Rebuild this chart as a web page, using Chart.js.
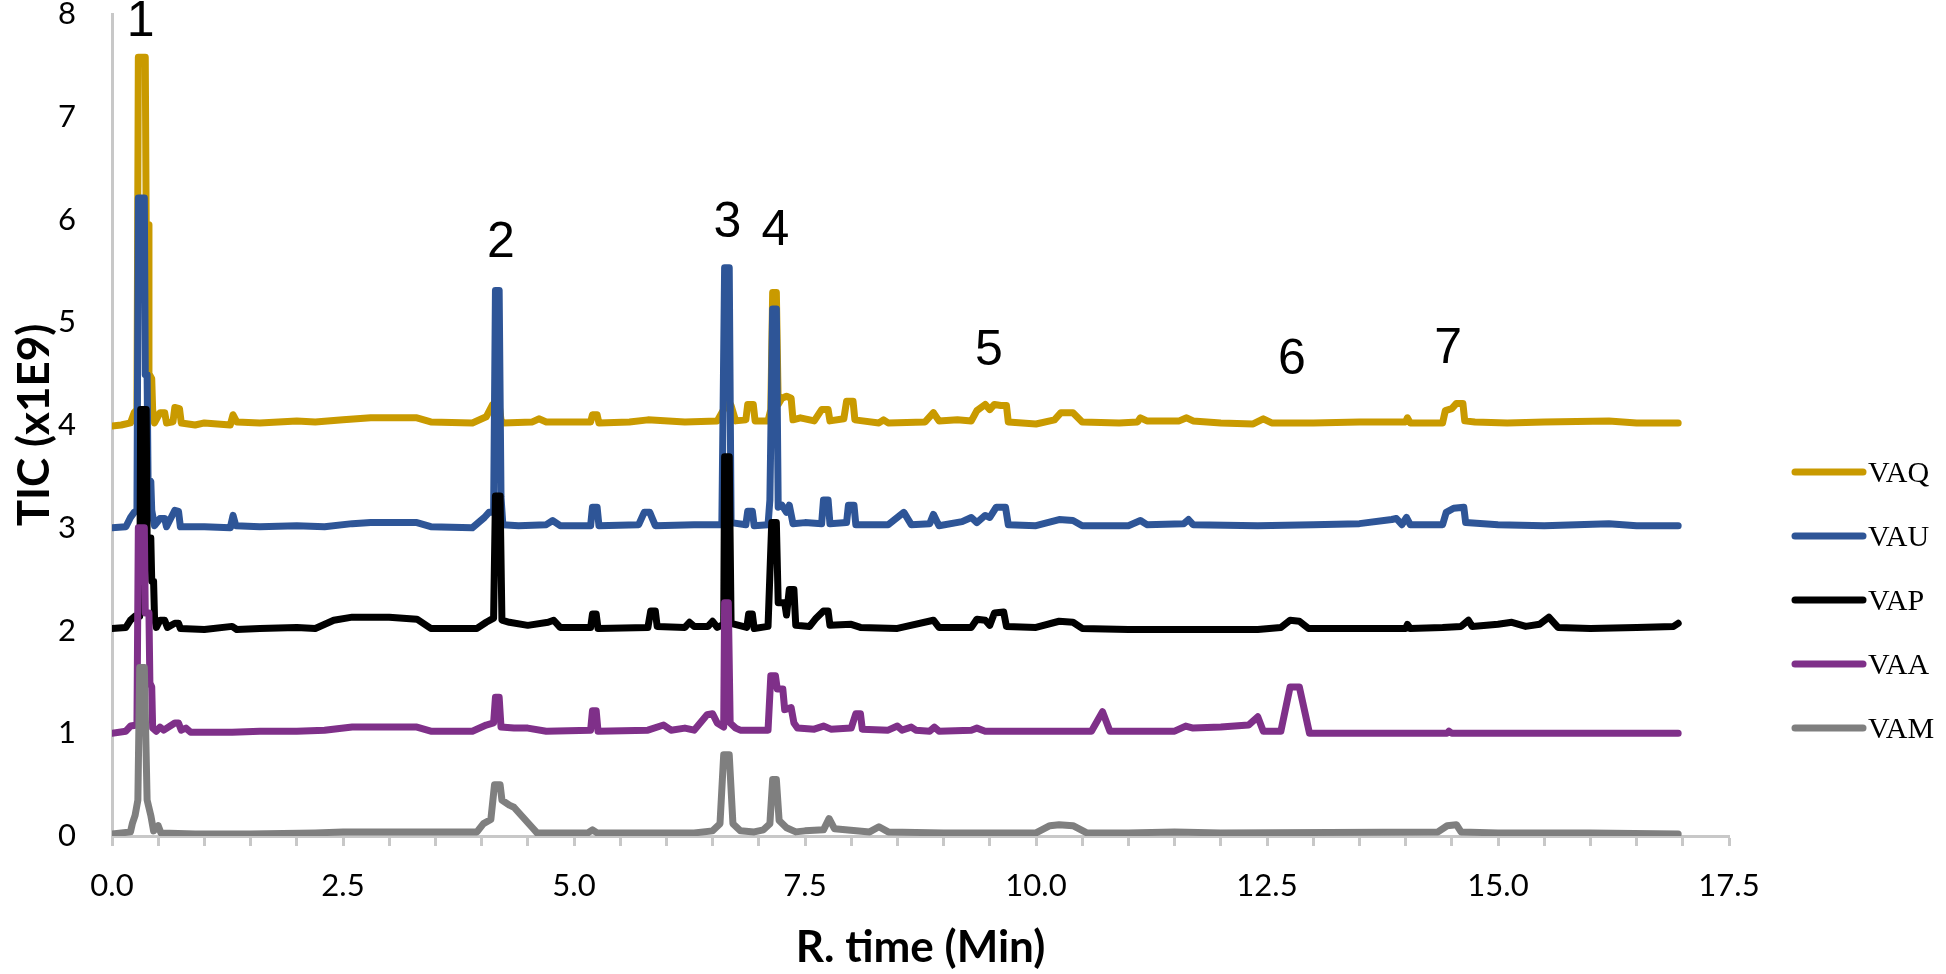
<!DOCTYPE html>
<html>
<head>
<meta charset="utf-8">
<title>TIC chromatograms</title>
<script src="https://cdn.jsdelivr.net/npm/chart.js@4/dist/chart.umd.min.js"></script>
<style>
  html, body { margin: 0; padding: 0; background: #fff; }
  #wrap { width: 1946px; height: 974px; position: relative; }
</style>
</head>
<body>
<div id="wrap"><canvas id="myChart"></canvas></div>
<script>
// chromatogram data
// time in minutes, TIC in units of 1E9

var seriesNames = ['VAQ', 'VAU', 'VAP', 'VAA', 'VAM'];
var seriesColors = ['#c99a00', '#2e5597', '#000000', '#7f3089', '#7f7f7f'];

var vaqTime = [0, 0.1, 0.2, 0.24, 0.27, 0.285, 0.36, 0.37, 0.39, 0.40, 0.43, 0.44, 0.46, 0.52, 0.57, 0.59, 0.66, 0.68, 0.73, 0.75, 0.9, 1.0, 1.28, 1.31, 1.35, 1.6, 2.0, 2.2, 2.5, 2.8, 3.3, 3.45, 3.9, 4.05, 4.12, 4.15, 4.19, 4.21, 4.23, 4.55, 4.62, 4.7, 5.18, 5.2, 5.25, 5.27, 5.6, 5.8, 6.2, 6.55, 6.62, 6.66, 6.7, 6.75, 6.86, 6.88, 6.94, 6.96, 7.1, 7.13, 7.15, 7.19, 7.21, 7.25, 7.3, 7.35, 7.37, 7.45, 7.6, 7.68, 7.75, 7.77, 7.92, 7.95, 8.02, 8.04, 8.3, 8.35, 8.4, 8.8, 8.89, 8.95, 9.15, 9.3, 9.36, 9.45, 9.5, 9.55, 9.62, 9.68, 9.7, 10.0, 10.2, 10.27, 10.4, 10.5, 10.9, 11.1, 11.13, 11.2, 11.55, 11.63, 11.7, 12.0, 12.35, 12.46, 12.55, 13.0, 13.5, 14.0, 14.02, 14.05, 14.4, 14.43, 14.5, 14.55, 14.62, 14.64, 14.75, 15.1, 15.5, 16.2, 16.5, 16.95];
var vaqTic = [3.99, 4.0, 4.02, 4.12, 4.15, 7.58, 7.58, 5.95, 5.95, 4.5, 4.45, 4.15, 4.02, 4.12, 4.12, 4.02, 4.03, 4.17, 4.16, 4.02, 4.0, 4.02, 4.0, 4.1, 4.03, 4.02, 4.04, 4.03, 4.05, 4.07, 4.07, 4.03, 4.02, 4.08, 4.2, 4.2, 4.2, 4.05, 4.02, 4.03, 4.06, 4.03, 4.03, 4.1, 4.1, 4.02, 4.03, 4.05, 4.03, 4.04, 4.15, 4.25, 4.19, 4.04, 4.05, 4.2, 4.2, 4.04, 4.04, 4.15, 5.29, 5.29, 4.2, 4.26, 4.28, 4.26, 4.05, 4.07, 4.04, 4.15, 4.15, 4.04, 4.06, 4.23, 4.23, 4.05, 4.02, 4.05, 4.02, 4.03, 4.12, 4.04, 4.05, 4.04, 4.14, 4.2, 4.15, 4.2, 4.19, 4.19, 4.03, 4.01, 4.05, 4.12, 4.12, 4.03, 4.02, 4.03, 4.07, 4.04, 4.04, 4.07, 4.04, 4.02, 4.01, 4.06, 4.02, 4.02, 4.03, 4.03, 4.07, 4.02, 4.02, 4.14, 4.16, 4.21, 4.21, 4.04, 4.03, 4.02, 4.03, 4.04, 4.02, 4.02];

var vauTime = [0, 0.15, 0.2, 0.24, 0.27, 0.285, 0.35, 0.36, 0.38, 0.39, 0.42, 0.43, 0.46, 0.52, 0.57, 0.59, 0.68, 0.72, 0.74, 1.0, 1.28, 1.31, 1.34, 1.6, 2.0, 2.3, 2.6, 2.8, 3.3, 3.45, 3.9, 4.03, 4.08, 4.13, 4.15, 4.19, 4.21, 4.23, 4.4, 4.7, 4.77, 4.85, 5.18, 5.2, 5.25, 5.27, 5.7, 5.76, 5.82, 5.88, 6.3, 6.6, 6.63, 6.68, 6.7, 6.86, 6.88, 6.93, 6.95, 7.1, 7.12, 7.15, 7.19, 7.21, 7.25, 7.3, 7.33, 7.37, 7.5, 7.68, 7.7, 7.75, 7.77, 7.95, 7.97, 8.03, 8.05, 8.4, 8.57, 8.65, 8.85, 8.89, 8.95, 9.2, 9.3, 9.36, 9.45, 9.5, 9.57, 9.67, 9.7, 10.0, 10.25, 10.4, 10.5, 11.0, 11.13, 11.2, 11.6, 11.65, 11.7, 12.4, 13.0, 13.5, 13.85, 13.9, 13.96, 14.01, 14.05, 14.4, 14.44, 14.52, 14.63, 14.65, 15.0, 15.5, 16.2, 16.5, 16.95];
var vauTic = [3.0, 3.01, 3.1, 3.15, 3.17, 6.21, 6.21, 4.49, 4.49, 3.48, 3.45, 3.17, 3.02, 3.09, 3.09, 3.01, 3.17, 3.16, 3.01, 3.01, 3.0, 3.12, 3.02, 3.01, 3.02, 3.01, 3.04, 3.05, 3.05, 3.01, 3.0, 3.1, 3.15, 3.15, 5.31, 5.31, 3.3, 3.03, 3.02, 3.03, 3.07, 3.02, 3.02, 3.2, 3.2, 3.02, 3.03, 3.15, 3.15, 3.02, 3.03, 3.03, 5.53, 5.53, 3.05, 3.03, 3.16, 3.16, 3.02, 3.03, 3.27, 5.13, 5.13, 3.2, 3.22, 3.15, 3.22, 3.04, 3.05, 3.04, 3.27, 3.27, 3.04, 3.05, 3.22, 3.22, 3.03, 3.03, 3.15, 3.03, 3.04, 3.13, 3.02, 3.06, 3.1, 3.05, 3.12, 3.1, 3.2, 3.2, 3.03, 3.02, 3.08, 3.07, 3.02, 3.02, 3.07, 3.03, 3.04, 3.08, 3.03, 3.02, 3.03, 3.04, 3.08, 3.09, 3.03, 3.1, 3.03, 3.03, 3.15, 3.19, 3.2, 3.05, 3.03, 3.02, 3.04, 3.02, 3.02];

var vapTime = [0, 0.15, 0.2, 0.25, 0.3, 0.31, 0.37, 0.38, 0.42, 0.43, 0.45, 0.46, 0.48, 0.52, 0.57, 0.6, 0.68, 0.72, 0.74, 1.0, 1.3, 1.35, 1.6, 2.0, 2.2, 2.4, 2.6, 3.0, 3.3, 3.45, 3.95, 4.05, 4.13, 4.15, 4.2, 4.22, 4.3, 4.5, 4.72, 4.78, 4.85, 5.18, 5.2, 5.24, 5.26, 5.8, 5.83, 5.88, 5.9, 6.2, 6.25, 6.3, 6.45, 6.5, 6.55, 6.62, 6.63, 6.68, 6.7, 6.87, 6.89, 6.93, 6.95, 7.1, 7.14, 7.19, 7.21, 7.28, 7.3, 7.33, 7.38, 7.4, 7.55, 7.62, 7.7, 7.75, 7.77, 8.0, 8.1, 8.5, 8.89, 8.95, 9.3, 9.36, 9.45, 9.5, 9.55, 9.65, 9.68, 10.0, 10.25, 10.4, 10.5, 11.0, 12.4, 12.65, 12.75, 12.85, 12.95, 13.5, 14.0, 14.02, 14.05, 14.4, 14.6, 14.68, 14.72, 15.0, 15.15, 15.3, 15.45, 15.55, 15.65, 16.0, 16.5, 16.9, 16.95];
var vapTic = [2.02, 2.03, 2.1, 2.14, 2.14, 4.15, 4.15, 2.9, 2.9, 2.48, 2.48, 2.13, 2.03, 2.1, 2.1, 2.03, 2.07, 2.07, 2.02, 2.01, 2.04, 2.01, 2.02, 2.03, 2.02, 2.1, 2.13, 2.13, 2.11, 2.02, 2.02, 2.08, 2.12, 3.31, 3.31, 2.1, 2.08, 2.05, 2.08, 2.1, 2.03, 2.03, 2.16, 2.16, 2.02, 2.03, 2.19, 2.19, 2.04, 2.03, 2.08, 2.04, 2.04, 2.09, 2.03, 2.06, 3.69, 3.69, 2.07, 2.03, 2.16, 2.16, 2.02, 2.04, 3.05, 3.05, 2.27, 2.27, 2.15, 2.4, 2.4, 2.05, 2.04, 2.12, 2.19, 2.19, 2.05, 2.06, 2.03, 2.02, 2.1, 2.03, 2.03, 2.11, 2.1, 2.05, 2.17, 2.18, 2.04, 2.03, 2.09, 2.08, 2.02, 2.01, 2.01, 2.03, 2.1, 2.09, 2.02, 2.02, 2.02, 2.06, 2.02, 2.03, 2.04, 2.1, 2.04, 2.06, 2.08, 2.04, 2.06, 2.13, 2.03, 2.02, 2.03, 2.04, 2.07];

var vaaTime = [0, 0.15, 0.2, 0.27, 0.285, 0.35, 0.36, 0.40, 0.41, 0.43, 0.44, 0.48, 0.52, 0.56, 0.68, 0.72, 0.75, 0.8, 0.85, 1.3, 1.6, 2.0, 2.3, 2.6, 3.3, 3.45, 3.9, 4.05, 4.13, 4.15, 4.19, 4.21, 4.35, 4.5, 4.7, 5.18, 5.2, 5.24, 5.26, 5.8, 5.97, 6.05, 6.2, 6.3, 6.44, 6.5, 6.55, 6.62, 6.63, 6.67, 6.69, 6.75, 6.8, 7.1, 7.13, 7.18, 7.2, 7.26, 7.28, 7.35, 7.38, 7.42, 7.6, 7.7, 7.78, 8.0, 8.05, 8.1, 8.12, 8.4, 8.5, 8.55, 8.65, 8.7, 8.85, 8.9, 8.95, 9.3, 9.36, 9.45, 10.6, 10.72, 10.8, 11.5, 11.62, 11.7, 12.0, 12.3, 12.4, 12.46, 12.65, 12.75, 12.85, 12.96, 14.45, 14.47, 14.5, 16.95];
var vaaTic = [1.0, 1.02, 1.07, 1.08, 3.0, 3.0, 2.17, 2.17, 1.49, 1.45, 1.05, 1.02, 1.06, 1.03, 1.1, 1.1, 1.03, 1.05, 1.01, 1.01, 1.02, 1.02, 1.03, 1.06, 1.06, 1.02, 1.02, 1.08, 1.1, 1.35, 1.35, 1.06, 1.05, 1.05, 1.02, 1.03, 1.22, 1.22, 1.02, 1.03, 1.08, 1.03, 1.05, 1.03, 1.18, 1.19, 1.1, 1.06, 2.27, 2.27, 1.1, 1.05, 1.03, 1.03, 1.56, 1.56, 1.43, 1.43, 1.23, 1.25, 1.1, 1.05, 1.04, 1.07, 1.04, 1.05, 1.19, 1.19, 1.04, 1.03, 1.07, 1.03, 1.06, 1.03, 1.02, 1.06, 1.02, 1.03, 1.05, 1.02, 1.02, 1.21, 1.02, 1.02, 1.07, 1.05, 1.06, 1.08, 1.16, 1.02, 1.02, 1.45, 1.45, 1.0, 1.0, 1.02, 1.0, 1.0];

var vamTime = [0, 0.2, 0.22, 0.25, 0.28, 0.3, 0.35, 0.38, 0.42, 0.45, 0.5, 0.53, 0.9, 1.5, 2.2, 2.5, 3.5, 3.95, 4.02, 4.1, 4.14, 4.2, 4.22, 4.3, 4.35, 4.45, 4.55, 4.6, 5.15, 5.2, 5.25, 6.3, 6.5, 6.58, 6.62, 6.68, 6.72, 6.8, 6.95, 7.05, 7.12, 7.15, 7.19, 7.22, 7.3, 7.4, 7.5, 7.7, 7.76, 7.82, 8.2, 8.3, 8.4, 9.0, 10.0, 10.15, 10.25, 10.4, 10.55, 11.0, 11.5, 12.0, 14.35, 14.45, 14.55, 14.6, 15.0, 16.0, 16.95];
var vamTic = [0.02, 0.04, 0.12, 0.2, 0.35, 1.64, 1.64, 0.35, 0.2, 0.05, 0.1, 0.03, 0.02, 0.02, 0.03, 0.04, 0.04, 0.04, 0.12, 0.16, 0.5, 0.5, 0.35, 0.3, 0.28, 0.18, 0.08, 0.03, 0.03, 0.06, 0.03, 0.03, 0.05, 0.12, 0.79, 0.79, 0.12, 0.05, 0.04, 0.06, 0.12, 0.55, 0.55, 0.15, 0.08, 0.04, 0.05, 0.06, 0.17, 0.07, 0.04, 0.09, 0.04, 0.03, 0.03, 0.1, 0.11, 0.1, 0.03, 0.03, 0.04, 0.03, 0.04, 0.1, 0.11, 0.04, 0.03, 0.03, 0.02];

var xTickLabels = ['0.0', '2.5', '5.0', '7.5', '10.0', '12.5', '15.0', '17.5'];
var yTickLabels = ['0', '1', '2', '3', '4', '5', '6', '7', '8'];

// numbered peaks
var peakNames = ['1', '2', '3', '4', '5', '6', '7'];
var peakTimes = [0.31, 4.21, 6.66, 7.18, 9.49, 12.77, 14.46];
var peakLevels = [7.92, 5.77, 5.96, 5.89, 4.72, 4.63, 4.74];

function toPoints(times, values) {
    var pts = [];
    for (var i = 0; i < times.length; i++) {
        pts.push({x: times[i], y: values[i]});
    }
    return pts;
}

var seriesData = [
    toPoints(vaqTime, vaqTic),
    toPoints(vauTime, vauTic),
    toPoints(vapTime, vapTic),
    toPoints(vaaTime, vaaTic),
    toPoints(vamTime, vamTic)
];

var datasets = seriesNames.map(function(name, i) {
    return {
        label: name,
        data: seriesData[i],
        borderColor: seriesColors[i],
        backgroundColor: seriesColors[i],
        borderWidth: 7,
        borderJoinStyle: 'round',
        borderCapStyle: 'round',
        pointRadius: 0,
        tension: 0,
        fill: false,
        // first series at the back, last one on top
        order: seriesNames.length - 1 - i
    };
});

// peak numbers and the legend on the right
var overlay = {
    id: 'overlay',
    afterDraw: function(chart) {
        var c = chart.ctx;
        var xs = chart.scales.x, ys = chart.scales.y;
        c.save();
        c.fillStyle = '#000';
        c.textAlign = 'center';
        c.textBaseline = 'middle';
        c.font = '50px "Liberation Sans", Arial, sans-serif';
        for (var i = 0; i < peakNames.length; i++) {
            c.fillText(peakNames[i], xs.getPixelForValue(peakTimes[i]), ys.getPixelForValue(peakLevels[i]));
        }

        c.font = '30px "Liberation Serif", "Times New Roman", serif';
        c.textAlign = 'left';
        c.lineWidth = 7;
        c.lineCap = 'round';
        chart.data.datasets.forEach(function(ds, k) {
            var y = 472 + k * 64;
            c.strokeStyle = ds.borderColor;
            c.beginPath();
            c.moveTo(1795, y);
            c.lineTo(1863, y);
            c.stroke();
            c.fillStyle = '#000';
            c.fillText(ds.label, 1868, y + 2);
        });
        c.restore();
    }
};

var ctx = document.getElementById('myChart').getContext('2d');
var myChart = new Chart(ctx, {
    type: 'line',
    data: { datasets: datasets },
    plugins: [overlay],
    options: {
        responsive: true,
        maintainAspectRatio: false,
        animation: false,
        layout: { padding: { left: 6, right: 217, top: 14, bottom: 0 } },
        plugins: {
            legend: { display: false },
            tooltip: { enabled: false }
        },
        scales: {
            x: {
                type: 'linear',
                min: 0,
                max: 17.5,
                grid: {
                    display: true,
                    drawOnChartArea: false,
                    drawTicks: true,
                    tickLength: 10,
                    tickWidth: 3,
                    color: '#c8c8c8'
                },
                border: { display: true, color: '#c8c8c8', width: 3 },
                ticks: {
                    stepSize: 0.5,
                    autoSkip: false,
                    maxRotation: 0,
                    padding: 21,
                    color: '#000',
                    font: { family: 'Lato', size: 31 },
                    callback: function(v) {
                        var s = Number(v).toFixed(1);
                        return xTickLabels.indexOf(s) >= 0 ? s : '';
                    }
                },
                title: {
                    display: true,
                    text: 'R. time (Min)',
                    color: '#000',
                    font: { family: 'Lato', size: 44, weight: 'bold' },
                    padding: { top: 10, bottom: 0 }
                },
                afterFit: function(scale) {
                    scale.height = 138;
                }
            },
            y: {
                min: 0,
                max: 8,
                grid: { display: false, drawTicks: false },
                border: { display: true, color: '#c8c8c8', width: 3 },
                ticks: {
                    stepSize: 1,
                    padding: 36,
                    color: '#000',
                    font: { family: 'Lato', size: 31 },
                    callback: function(v) {
                        return yTickLabels[v];
                    }
                },
                title: {
                    display: true,
                    text: 'TIC (x1E9)',
                    color: '#000',
                    font: { family: 'Lato', size: 44, weight: 'bold' },
                    padding: { top: 2, bottom: 4 }
                },
                afterFit: function(scale) {
                    scale.width = 106;
                    scale.paddingTop = 0;
                    scale.paddingBottom = 0;
                }
            }
        }
    }
});
</script>
</body>
</html>
